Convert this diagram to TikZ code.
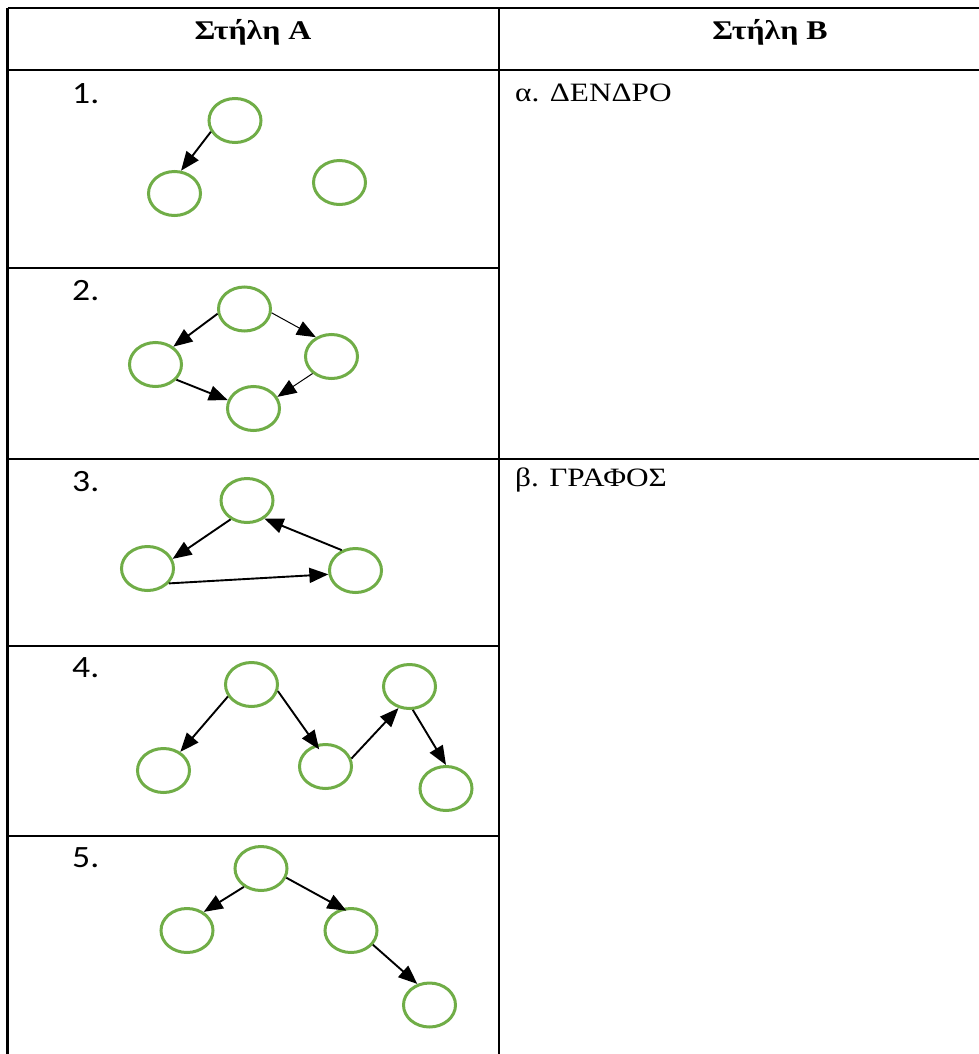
\documentclass[tikz,border=0pt]{standalone}
\usepackage{fontspec}
\setmainfont[FakeStretch=1.18]{Liberation Serif}
\newfontfamily\calib[FakeStretch=1.15]{Carlito}
\usetikzlibrary{shapes.geometric,arrows.meta}
\definecolor{vgreen}{HTML}{70AD47}
\tikzset{
  vert/.style={ellipse,draw=vgreen,line width=3pt,minimum width=52pt,minimum height=44pt,inner sep=0pt},
  arr/.style={line width=1.9pt,-{Triangle[length=19pt,width=15pt]}},
  tarr/.style={line width=1pt,-{Triangle[length=19pt,width=15pt]}},
  grid/.style={line width=2.8pt,black},
  hdr/.style={anchor=base,font=\fontsize{27}{32}\selectfont\bfseries,inner sep=0pt},
  lab/.style={anchor=base west,font=\calib\fontsize{31}{36}\selectfont,inner sep=0pt},
  ans/.style={anchor=base west,font=\fontsize{26.5}{31}\selectfont,inner sep=0pt}
}
\begin{document}
\begin{tikzpicture}[x=1pt,y=-1pt]
\useasboundingbox (0,0) rectangle (979,1054);
% table
\coordinate (tl) at (7.5,8);
\coordinate (tr) at (979,8);
\coordinate (bl) at (7.5,1054);
\coordinate (ml) at (499,8);
\coordinate (mb) at (499,1054);
\draw[grid] (tl) -- (tr);
\draw[grid] (tl) -- (bl);
\draw[grid] (ml) -- (mb);
\draw[grid] (7.5,70) -- (979,70);
\draw[grid] (7.5,268) -- (499,268);
\draw[grid] (7.5,459) -- (979,459);
\draw[grid] (7.5,646) -- (499,646);
\draw[grid] (7.5,836) -- (499,836);
% headers
\node[hdr] (hA) at (253,40) {Στήλη Α};
\node[hdr] (hB) at (770,40) {Στήλη Β};
% answers
\node[ans] (ansA) at (515,102) {α. ΔΕΝΔΡΟ};
\node[ans] (ansB) at (515,486) {β. ΓΡΑΦΟΣ};
% row labels
\node[lab] (l1) at (72,103) {1.};
\node[lab] (l2) at (72,300) {2.};
\node[lab] (l3) at (72,491) {3.};
\node[lab] (l4) at (72,677) {4.};
\node[lab] (l5) at (72,867) {5.};
% row 1
\node[vert] (a1) at (235,120.5) {};
\node[vert] (a2) at (174.5,193.5) {};
\node[vert] (a3) at (339.5,182.5) {};
\draw[arr] (a1.205) -- (a2.74);
% row 2
\node[vert] (b1) at (244.5,309) {};
\node[vert] (b2) at (155.5,364.5) {};
\node[vert] (b3) at (331.5,356.5) {};
\node[vert] (b4) at (253.5,408.5) {};
\draw[arr] (b1.190) -- (b2.45);
\draw[tarr] (b1.352) -- (b3.129);
\draw[arr] (b2.324) -- (b4.162);
\draw[tarr] (b3.222) -- (b4.26);
% row 3
\node[vert] (c1) at (247,500.5) {};
\node[vert] (c2) at (147.5,568.5) {};
\node[vert] (c3) at (355.5,570.5) {};
\draw[arr] (c1.229) -- (c2.21);
\draw[arr] (c3.124) -- (c1.314);
\draw[arr] (c2.325) -- (c3.188);
% row 4
\node[vert] (d1) at (251.5,684.5) {};
\node[vert] (d2) at (163.5,770.5) {};
\node[vert] (d3) at (325.5,766.5) {};
\node[vert] (d4) at (409.5,686.5) {};
\node[vert] (d5) at (446,788.5) {};
\draw[arr] (d1.207) -- (d2.48);
\draw[arr,shorten >=-6pt] (d1.346) -- (d3.114);
\draw[arr] (d3.17) -- (d4.243);
\draw[arr] (d4.278) -- (d5.90);
% row 5
\node[vert] (e1) at (261,868.5) {};
\node[vert] (e2) at (187,930.5) {};
\node[vert] (e3) at (351,930.5) {};
\node[vert] (e4) at (429.5,1005) {};
\draw[arr] (e1.227) -- (e2.48);
\draw[arr,shorten >=-5pt] (e1.340) -- (e3.112);
\draw[arr] (e3.327) -- (e4.120);
\end{tikzpicture}
\end{document}
